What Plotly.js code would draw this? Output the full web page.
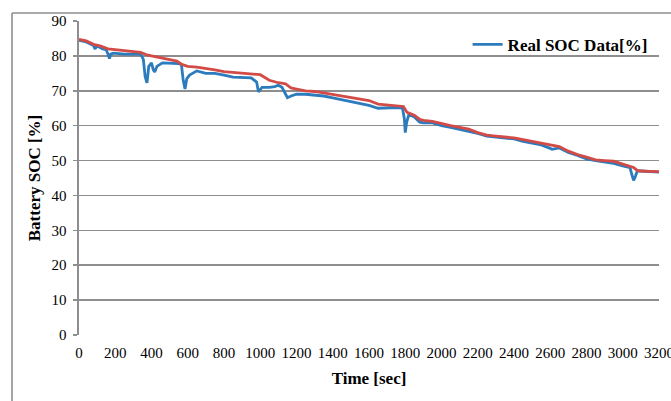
<!DOCTYPE html>
<html>
<head>
<meta charset="utf-8">
<script src="https://cdn.plot.ly/plotly-3.0.1.min.js"></script>
<style>
html,body{margin:0;padding:0;background:#fff;}
#chart{width:671px;height:401px;}
</style>
</head>
<body>
<div id="chart"></div>
<script>
// Real SOC data (blue)
const realTime = [0,40,80,88,95,100,130,150,160,168,175,190,250,300,340,355,365,375,385,400,410,418,430,460,500,550,565,575,585,595,610,650,700,750,800,850,950,980,990,1000,1010,1050,1080,1100,1120,1140,1150,1170,1200,1250,1300,1350,1400,1450,1500,1550,1600,1650,1700,1750,1785,1795,1800,1808,1820,1850,1880,1900,1950,2000,2050,2100,2150,2200,2250,2300,2400,2450,2500,2550,2600,2610,2650,2700,2750,2800,2850,2900,2950,3000,3040,3050,3060,3070,3080,3100,3150,3200];
const realSOC = [84.5,84,83,82,82.5,82.8,82,81.8,80.5,79.2,80.5,80.8,80.5,80.6,80.5,79,74,72.3,77,78,76,75.4,77,78,78,77.8,77.5,73,70.5,73.5,74.5,75.7,75,75,74.5,73.9,73.7,72.5,69.7,70.5,71,71,71.2,71.6,71,69,68,68.5,69,69,68.8,68.5,68,67.5,67,66.3,65.8,65,65.2,65.2,65,62,58,61,63.2,62.5,61,60.8,60.8,60,59.5,59,58.5,57.8,57,56.8,56.2,55.5,55,54.5,53.5,53.2,53.6,52.3,51.5,50.5,50,49.7,49.2,48.5,48,46,44.3,45.5,47,47,46.8,46.7];
// Estimated SOC (red)
const estTime = [0,40,80,120,160,200,250,300,340,380,420,460,500,540,570,600,650,700,750,800,850,900,950,1000,1050,1100,1140,1170,1200,1250,1300,1350,1400,1450,1500,1550,1600,1650,1700,1750,1790,1810,1850,1880,1900,1950,2000,2050,2100,2150,2200,2250,2300,2350,2400,2450,2500,2550,2600,2650,2700,2750,2800,2850,2900,2950,3000,3030,3060,3080,3100,3150,3200];
const estSOC = [84.7,84.3,83.3,82.8,82,81.8,81.5,81.4,81,80.2,79.8,79.2,78.8,78.5,77.5,77,76.8,76.5,76,75.5,75.3,75,74.7,74.6,73,72.3,72,70.8,70.5,70,69.8,69.4,69,68.5,68,67.7,67.2,66.2,66,65.8,65.5,63.8,63,61.8,61.5,61.2,60.5,60,59.5,59,58,57.3,57,56.8,56.5,56,55.5,55,54.3,54,52.7,51.7,51,50.2,50,49.8,49,48.5,48,47.2,47,46.9,46.8];
const xTicks = [0,200,400,600,800,1000,1200,1400,1600,1800,2000,2200,2400,2600,2800,3000,3200];
const yTicks = [0,10,20,30,40,50,60,70,80,90];

const serif = 'Liberation Serif, Times New Roman, Times, serif';
const traces = [
  {x: realTime, y: realSOC, type: 'scatter', mode: 'lines', name: 'Real SOC Data[%]',
   line: {color: '#2b7bbd', width: 2.8}},
  {x: estTime, y: estSOC, type: 'scatter', mode: 'lines', name: 'Estimated SOC',
   showlegend: false, line: {color: '#d24b46', width: 2.8}}
];
const layout = {
  width: 671, height: 401,
  margin: {l: 79, r: 12, t: 21, b: 66},
  paper_bgcolor: '#ffffff', plot_bgcolor: '#ffffff',
  font: {family: serif, size: 15, color: '#000'},
  showlegend: true,
  legend: {x: 0.67, y: 0.924, xanchor: 'left', yanchor: 'middle',
           font: {family: serif, size: 17, color: '#000', weight: 'bold'},
           bgcolor: 'rgba(0,0,0,0)'},
  xaxis: {range: [0, 3200], tickvals: xTicks, ticktext: xTicks.map(String),
          showgrid: false, zeroline: false, showline: false, ticks: '',
          tickfont: {family: serif, size: 15, color: '#000'}, ticklabeloverflow: 'allow',
          ticklabelstandoff: 7,
          title: {text: '<b>Time [sec]</b>', font: {family: serif, size: 17, color: '#000'}, standoff: 12}},
  yaxis: {range: [0, 90], tickvals: yTicks, ticktext: yTicks.map(String),
          showgrid: true, gridcolor: '#8e8e8e', gridwidth: 1.6,
          zeroline: false, showline: true, linecolor: '#8e8e8e', linewidth: 1.6,
          ticks: 'outside', ticklen: 4, tickcolor: '#8e8e8e', tickwidth: 1.6,
          tickfont: {family: serif, size: 15, color: '#000'}, ticklabelstandoff: 4,
          title: {text: '<b>Battery SOC [%]</b>', font: {family: serif, size: 17, color: '#000'}, standoff: 6}},
  shapes: [
    {type: 'line', xref: 'paper', yref: 'paper', x0: -0.1155, x1: 1.1, y0: 1.0255, y1: 1.0255,
     line: {color: '#8e8e8e', width: 1.6}},
    {type: 'line', xref: 'paper', yref: 'paper', x0: -0.1155, x1: -0.1155, y0: 1.0255, y1: -0.3,
     line: {color: '#8e8e8e', width: 1.6}}
  ]
};
Plotly.newPlot('chart', traces, layout, {displayModeBar: false, staticPlot: true});
</script>
</body>
</html>
